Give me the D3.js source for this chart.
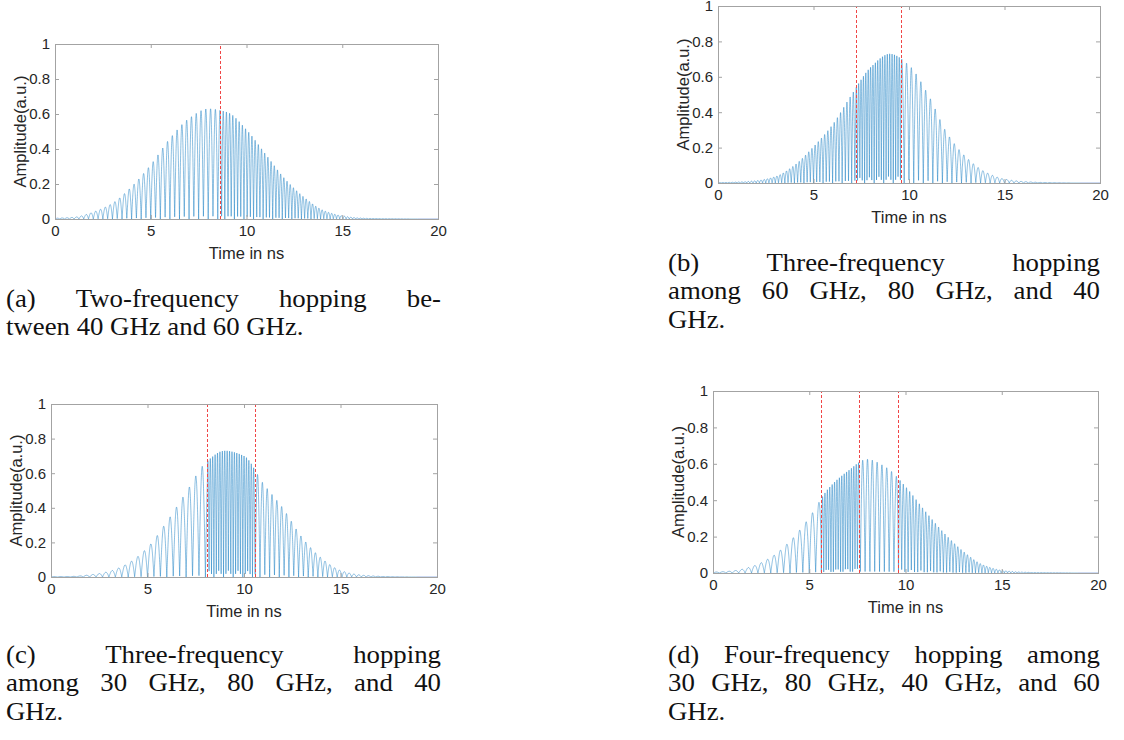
<!DOCTYPE html>
<html>
<head>
<meta charset="utf-8">
<script src="https://cdn.jsdelivr.net/npm/d3@7"></script>
<style>
  html, body { margin: 0; padding: 0; background: #fff; }
  svg { display: block; }
</style>
</head>
<body>
<svg id="fig" width="1124" height="740"></svg>
<script>
// ---- Pulse envelopes, tabulated every nanosecond ----
const envTimes = [0, 1, 2, 3, 4, 5, 6, 7, 8, 9, 10, 11, 12, 13, 14, 15, 16, 17, 18, 19, 20];
const envA = [0.004, 0.010, 0.040, 0.090, 0.185, 0.310, 0.460, 0.575, 0.630, 0.610, 0.510, 0.370, 0.230, 0.125, 0.050, 0.018, 0.005, 0.002, 0.001, 0, 0];
const envB = [0.002, 0.005, 0.013, 0.036, 0.100, 0.205, 0.330, 0.500, 0.655, 0.730, 0.665, 0.500, 0.280, 0.145, 0.062, 0.022, 0.008, 0.003, 0.001, 0, 0];
const envC = [0.002, 0.003, 0.012, 0.032, 0.080, 0.170, 0.320, 0.490, 0.660, 0.730, 0.700, 0.540, 0.400, 0.230, 0.110, 0.038, 0.012, 0.004, 0.001, 0, 0];
const envD = [0.004, 0.011, 0.035, 0.086, 0.175, 0.305, 0.465, 0.560, 0.625, 0.580, 0.475, 0.343, 0.220, 0.119, 0.046, 0.015, 0.005, 0.002, 0.001, 0, 0];

// ---- Hop instants (ns) and carrier frequency of each hop (GHz) ----
const hopsA = [8.6];
const freqsA = [40, 60];
const hopsB = [7.2, 9.6];
const freqsB = [60, 80, 40];
const hopsC = [8.1, 10.55];
const freqsC = [30, 80, 40];
const hopsD = [5.6, 7.6, 9.6];
const freqsD = [30, 80, 40, 60];

// ---- Axes ----
const timeDomain = [0, 20];
const ampDomain = [0, 1];
const xTicks = [0, 5, 10, 15, 20];
const yTicks = [0, 0.2, 0.4, 0.6, 0.8, 1];
const yTickLabels = ["0", "0.2", "0.4", "0.6", "0.8", "1"];
const xLabel = "Time in ns";
const yLabel = "Amplitude(a.u.)";

// ---- Sub-figure captions (one entry per typeset line) ----
const captionA = ["(a) Two-frequency hopping be-", "tween 40 GHz and 60 GHz."];
const captionB = ["(b) Three-frequency hopping", "among 60 GHz, 80 GHz, and 40", "GHz."];
const captionC = ["(c) Three-frequency hopping", "among 30 GHz, 80 GHz, and 40", "GHz."];
const captionD = ["(d) Four-frequency hopping among", "30 GHz, 80 GHz, 40 GHz, and 60", "GHz."];

// Monotone cubic (Fritsch–Carlson) curve through the tabulated envelope
function monotoneCurve(xs, ys) {
  const n = xs.length, d = [], m = new Array(n);
  for (let i = 0; i < n - 1; i++) d[i] = (ys[i + 1] - ys[i]) / (xs[i + 1] - xs[i]);
  m[0] = d[0]; m[n - 1] = d[n - 2];
  for (let i = 1; i < n - 1; i++) {
    m[i] = (d[i - 1] * d[i] <= 0) ? 0 : 2 / (1 / d[i - 1] + 1 / d[i]);
  }
  return t => {
    let i = Math.min(n - 2, Math.max(0, d3.bisectRight(xs, t) - 1));
    const h = xs[i + 1] - xs[i], s = (t - xs[i]) / h;
    const h00 = 2 * s * s * s - 3 * s * s + 1, h10 = s * s * s - 2 * s * s + s;
    const h01 = -2 * s * s * s + 3 * s * s, h11 = s * s * s - s * s;
    return Math.max(0, h00 * ys[i] + h10 * h * m[i] + h01 * ys[i + 1] + h11 * h * m[i + 1]);
  };
}

// Rectified hopping carrier under the envelope; one lobe per 10/f ns
function waveform(env, hops, freqs) {
  const envAt = monotoneCurve(envTimes, env);
  const dt = 0.004, pts = [];
  let phase = 0;
  for (let t = timeDomain[0]; t <= timeDomain[1] + 1e-9; t += dt) {
    const k = d3.bisectRight(hops, t);
    pts.push([t, envAt(t) * Math.abs(Math.sin(phase))]);
    phase += Math.PI * (freqs[k] / 10) * dt;
  }
  return pts;
}

const svg = d3.select("#fig");
svg.append("rect").attr("width", 1124).attr("height", 740).attr("fill", "#fff");

const SANS = "'Liberation Sans', Arial, Helvetica, sans-serif";
const SERIF = "'Liberation Serif', 'Times New Roman', serif";
const boxColor = "#a3a3a3";
const textColor = "#262626";

const panels = [
  { env: envA, hops: hopsA, freqs: freqsA, box: { l: 55, r: 438, t: 44, b: 219 } },
  { env: envB, hops: hopsB, freqs: freqsB, box: { l: 718, r: 1100, t: 6, b: 183 } },
  { env: envC, hops: hopsC, freqs: freqsC, box: { l: 51, r: 437, t: 404, b: 577 } },
  { env: envD, hops: hopsD, freqs: freqsD, box: { l: 713, r: 1098, t: 391, b: 573 } }
];

panels.forEach((p, idx) => {
  const B = p.box;
  const x = d3.scaleLinear().domain(timeDomain).range([B.l, B.r]);
  const y = d3.scaleLinear().domain(ampDomain).range([B.b, B.t]);
  const g = svg.append("g").attr("class", "panel-" + idx);

  // signal
  const line = d3.line().x(d => x(d[0])).y(d => y(d[1]));
  g.append("path")
    .datum(waveform(p.env, p.hops, p.freqs))
    .attr("d", line)
    .attr("fill", "none")
    .attr("stroke", "#0072BD")
    .attr("stroke-opacity", 0.9)
    .attr("stroke-width", 0.5)
    .attr("stroke-linejoin", "round");

  // hop markers
  g.selectAll("line.hop").data(p.hops).join("line")
    .attr("class", "hop")
    .attr("x1", d => Math.round(x(d)) + 0.5).attr("x2", d => Math.round(x(d)) + 0.5)
    .attr("y1", y(0)).attr("y2", y(1))
    .attr("stroke", "#f04545")
    .attr("stroke-width", 1)
    .attr("stroke-dasharray", "3,2");

  // axes (ticks pointing inward on all four sides)
  const styleAxis = (sel, labels) => {
    sel.select(".domain").remove();
    sel.selectAll(".tick line").attr("stroke", boxColor);
    sel.selectAll(".tick text")
      .attr("fill", textColor)
      .style("font-family", SANS)
      .style("font-size", "15px");
    if (!labels) sel.selectAll(".tick text").remove();
  };
  g.append("g").attr("transform", `translate(0,${B.b})`)
    .call(d3.axisBottom(x).tickValues(xTicks).tickFormat(d3.format("d")).tickSizeInner(-4).tickSizeOuter(0).tickPadding(6))
    .call(s => styleAxis(s, true));
  g.append("g").attr("transform", `translate(0,${B.t})`)
    .call(d3.axisTop(x).tickValues(xTicks).tickSizeInner(-4).tickSizeOuter(0))
    .call(s => styleAxis(s, false));
  g.append("g").attr("transform", `translate(${B.l},0)`)
    .call(d3.axisLeft(y).tickValues(yTicks).tickFormat((d, i) => yTickLabels[i]).tickSizeInner(-4).tickSizeOuter(0).tickPadding(5))
    .call(s => styleAxis(s, true));
  g.append("g").attr("transform", `translate(${B.r},0)`)
    .call(d3.axisRight(y).tickValues(yTicks).tickSizeInner(-4).tickSizeOuter(0))
    .call(s => styleAxis(s, false));

  // box
  g.append("rect")
    .attr("x", B.l + 0.5).attr("y", B.t + 0.5)
    .attr("width", B.r - B.l).attr("height", B.b - B.t)
    .attr("fill", "none").attr("stroke", boxColor).attr("stroke-width", 1);

  // axis titles
  g.append("text")
    .attr("x", (B.l + B.r) / 2).attr("y", B.b + 39.5)
    .attr("text-anchor", "middle")
    .attr("fill", textColor)
    .style("font-family", SANS).style("font-size", "16.5px")
    .text(xLabel);
  g.append("text")
    .attr("transform", `translate(${B.l - 29},${(B.t + B.b) / 2}) rotate(-90)`)
    .attr("text-anchor", "middle")
    .attr("fill", textColor)
    .style("font-family", SANS).style("font-size", "16.5px")
    .text(yLabel);
});

// ---- Captions: justified lines, last line set ragged ----
const capFont = 26, capStretch = 1.03;
function caption(lines, x0, x1, y0, lead) {
  const g = svg.append("g")
    .style("font-family", SERIF).style("font-size", capFont + "px").attr("fill", "#111");
  // width of an inter-word space
  const sp = g.append("text").text("a a");
  const sp2 = g.append("text").text("aa");
  const spaceW = (sp.node().getComputedTextLength() - sp2.node().getComputedTextLength()) * capStretch;
  sp.remove(); sp2.remove();

  lines.forEach((ln, li) => {
    const words = ln.split(" ");
    const y = y0 + li * lead;
    const nodes = words.map(w => {
      const t = g.append("text").attr("y", y).text(w);
      const wNat = t.node().getComputedTextLength() * capStretch;
      t.attr("textLength", wNat).attr("lengthAdjust", "spacingAndGlyphs");
      return { t, w: wNat };
    });
    const total = d3.sum(nodes, d => d.w);
    const last = li === lines.length - 1;
    const gap = last ? spaceW : (x1 - x0 - total) / (nodes.length - 1);
    let cx = x0;
    nodes.forEach(n => { n.t.attr("x", cx); cx += n.w + gap; });
  });
}
caption(captionA, 6, 441, 306.5, 28.5);
caption(captionB, 668, 1100, 270.5, 28.5);
caption(captionC, 6, 441, 662.5, 28.5);
caption(captionD, 668, 1100, 662.5, 28.5);
</script>
</body>
</html>
